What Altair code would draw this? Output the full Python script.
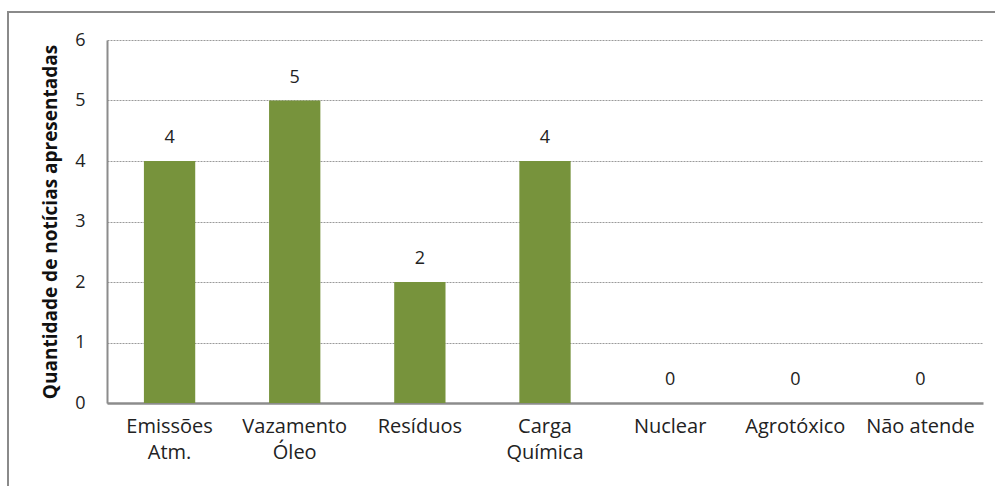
import altair as alt
import pandas as pd

categories = ["Emissões\nAtm.", "Vazamento\nÓleo", "Resíduos", "Carga\nQuímica", "Nuclear", "Agrotóxico", "Não atende"]
values = [4, 5, 2, 4, 0, 0, 0]
y_ticks = [0, 1, 2, 3, 4, 5, 6]

df = pd.DataFrame({"cat": categories, "val": values})

FONT = "Open Sans"
x_enc = alt.X("cat:N", sort=categories, title=None,
              scale=alt.Scale(paddingInner=0.59, paddingOuter=0.295),
              axis=alt.Axis(labelAngle=0, labelFontSize=20, labelFont=FONT, labelColor="#222",
                            labelExpr="split(datum.label, '\\n')",
                            labelLineHeight=26, labelPadding=13, ticks=False,
                            domainColor="#8c8c8c", domainWidth=2.5, labelLimit=200))
y_enc = alt.Y("val:Q", title="Quantidade de notícias apresentadas",
              scale=alt.Scale(domain=[0, 6], nice=False),
              axis=alt.Axis(values=y_ticks, format="d", labelFontSize=18, labelFont=FONT, labelColor="#222",
                            ticks=False, labelPadding=22, domainColor="#8c8c8c", domainWidth=2,
                            grid=True, gridColor="#9a9a9a", gridDash=[2, 1], gridWidth=1,
                            titleFont=FONT, titleFontSize=19, titleFontWeight="bold",
                            titleColor="#111", titlePadding=14))

bars = alt.Chart(df).mark_bar(color="#77933C").encode(x=x_enc, y=y_enc)
labels = alt.Chart(df).mark_text(baseline="bottom", dy=-14, fontSize=18, font=FONT, color="#222").encode(
    x=alt.X("cat:N", sort=categories), y="val:Q", text="val:Q")

frame = pd.DataFrame({"k": [0]})
border_left = alt.Chart(frame).mark_rect(color="#8a8a8a", clip=False).encode(
    x=alt.value(-100), x2=alt.value(-98), y=alt.value(-29), y2=alt.value(446))
top_a = alt.Chart(frame).mark_rule(color="#8a8a8a", strokeWidth=2, clip=False).encode(
    x=alt.value(-100), x2=alt.value(400), y=alt.value(-28))
top_b = alt.Chart(frame).mark_rule(color="#8a8a8a", strokeWidth=2, clip=False).encode(
    x=alt.value(399), x2=alt.value(876), y=alt.value(-28))
top_c = alt.Chart(frame).mark_rule(color="#8a8a8a", strokeWidth=2, clip=False).encode(
    x=alt.value(875), x2=alt.value(888), y=alt.value(-28))

chart = alt.layer(bars, labels, border_left, top_a, top_b, top_c).properties(
    width=876, height=363,
    autosize=alt.AutoSizeParams(type="none"),
    padding={"left": 107, "top": 40, "right": 12, "bottom": 83},
    background="white",
).configure_view(stroke=None)

chart.save("out.html", embed_options={"renderer": "svg", "actions": False})
